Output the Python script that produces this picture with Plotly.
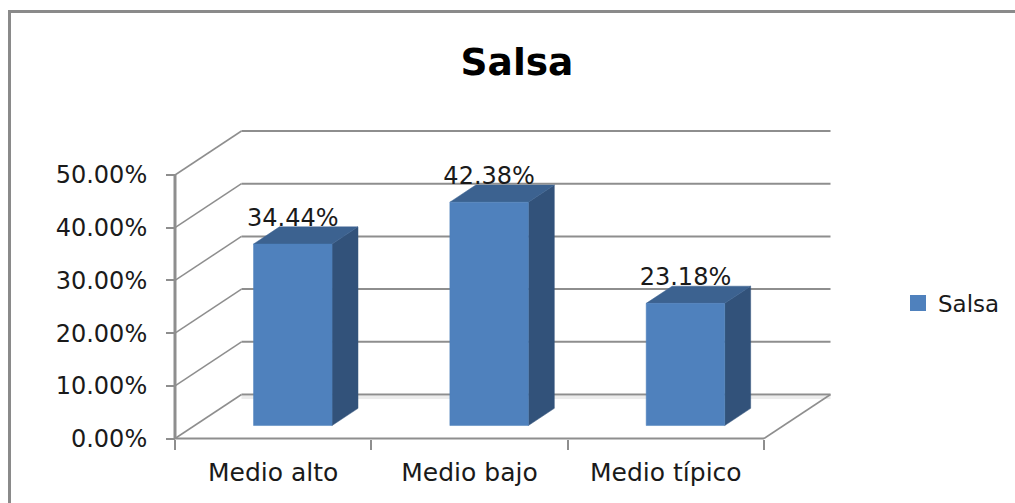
import plotly.graph_objects as go

categories = ["Medio alto", "Medio bajo", "Medio típico"]
values = [0.3444, 0.4238, 0.2318]
tick_values = [0, 0.1, 0.2, 0.3, 0.4, 0.5]
series_name = "Salsa"

W, H = 1015, 503
AX_L, AX_R, AX_T, AX_B = 175, 764, 175, 438.5
PX_X = (AX_R - AX_L) / 3               # pixels per category
PX_Y = (AX_B - AX_T) / 0.5             # pixels per unit of value
DX = 66.5 / PX_X                       # depth offset, category units
DY = 44 / PX_Y                         # depth offset, value units
BAR_W = 0.40
D_FRONT, D_THICK = 0.295, 0.39
LABEL_DROP = 5 / PX_Y

# plotting window is larger than the front plane so the depth stays visible
WIN_L, WIN_R, WIN_T, WIN_B = 168, 838, 124, 445

GRID = "#8e8e8e"
FRONT, TOP, SIDE = "#4f81bd", "#3c6290", "#32527a"
TEXT = "#1a1a1a"
FONT = "DejaVu Sans"

fig = go.Figure()


def line(xs, ys, width=2, color=GRID):
    fig.add_trace(go.Scatter(x=xs, y=ys, mode="lines", showlegend=False, hoverinfo="skip",
                             line=dict(color=color, width=width)))


def poly(xs, ys, color):
    fig.add_trace(go.Scatter(x=xs, y=ys, mode="lines", fill="toself", fillcolor=color, showlegend=False,
                             hoverinfo="skip", line=dict(color=color, width=0.5)))


n = len(categories)
# floor
line([DX, n + DX], [DY - 3 / PX_Y, DY - 3 / PX_Y], 3, "#ececec")
line([n, n + DX], [0, DY], 1.5)
# walls
for v in tick_values:
    line([0, DX], [v, v + DY], 1.5)
    line([DX, n + DX], [v + DY, v + DY], 2)
# axis lines
line([0, 0], [0, tick_values[-1]], 3)
line([0, n], [0, 0], 2)

# 3D columns, projected from the data
for i, v in enumerate(values):
    xl = i + 0.5 - BAR_W / 2 + D_FRONT * DX
    xr = xl + BAR_W
    y0 = D_FRONT * DY
    y1 = y0 + v
    ox, oy = D_THICK * DX, D_THICK * DY
    fig.add_trace(go.Scatter(x=[(xl + xr) / 2], y=[y1 + oy - LABEL_DROP], mode="text", text=[f"{v:.2%}"],
                             textposition="top center", showlegend=False, hoverinfo="skip",
                             textfont=dict(family=FONT, size=24, color=TEXT)))
    poly([xr, xr + ox, xr + ox, xr, xr], [y0, y0 + oy, y1 + oy, y1, y0], SIDE)
    poly([xl, xl + ox, xr + ox, xr, xl], [y1, y1 + oy, y1 + oy, y1, y1], TOP)
    poly([xl, xr, xr, xl, xl], [y0, y0, y1, y1, y0], FRONT)

# legend entry
fig.add_trace(go.Scatter(x=[None], y=[None], mode="markers", name=series_name,
                         marker=dict(symbol="square", size=17, color=FRONT)))

fig.update_layout(
    width=W, height=H, margin=dict(l=0, r=0, t=0, b=0, autoexpand=False),
    paper_bgcolor="white", plot_bgcolor="rgba(0,0,0,0)",
    font=dict(family=FONT, color=TEXT, size=22),
    title=dict(text="<b>Salsa</b>", x=517 / W, xanchor="center", y=1 - 62 / H, yanchor="middle",
               font=dict(family=FONT, size=37.5, color="black")),
    xaxis=dict(domain=[WIN_L / W, WIN_R / W],
               range=[(WIN_L - AX_L) / PX_X, (WIN_R - AX_L) / PX_X],
               anchor="free", position=1 - AX_B / H,
               tickmode="array", automargin=False,
               tickvals=[i + 0.5 for i in range(n)], ticktext=categories, ticks="",
               ticklabelstandoff=16, showgrid=False, zeroline=False, showline=False,
               tickfont=dict(family=FONT, size=25, color=TEXT),
               minor=dict(tickmode="array", tickvals=list(range(n + 1)), ticks="outside",
                          ticklen=10, tickwidth=2, tickcolor=GRID, showgrid=False)),
    yaxis=dict(domain=[1 - WIN_B / H, 1 - WIN_T / H],
               range=[(AX_B - WIN_B) / PX_Y, (AX_B - WIN_T) / PX_Y],
               anchor="free", position=AX_L / W,
               tickmode="array", automargin=False,
               tickvals=tick_values, tickformat=".2%", ticks="outside", ticklen=9, tickwidth=2,
               tickcolor=GRID, ticklabelstandoff=14, showgrid=False, zeroline=False, showline=False,
               tickfont=dict(family=FONT, size=24, color=TEXT)),
    legend=dict(x=898 / W, y=1 - 303 / H, xanchor="left", yanchor="middle", bgcolor="rgba(0,0,0,0)",
                font=dict(family=FONT, size=23, color=TEXT), itemwidth=30),
    shapes=[
        dict(type="line", xref="paper", yref="paper", x0=9.5 / W, x1=9.5 / W, y0=0, y1=1 - 10 / H,
             line=dict(color="#8a8a8a", width=3)),
        dict(type="line", xref="paper", yref="paper", x0=8 / W, x1=1, y0=1 - 11.5 / H, y1=1 - 11.5 / H,
             line=dict(color="#8a8a8a", width=3)),
    ],
)

fig.write_html("out.html", config={"displayModeBar": False},
               post_script="document.body.style.margin='0';document.documentElement.style.overflow='hidden';")
